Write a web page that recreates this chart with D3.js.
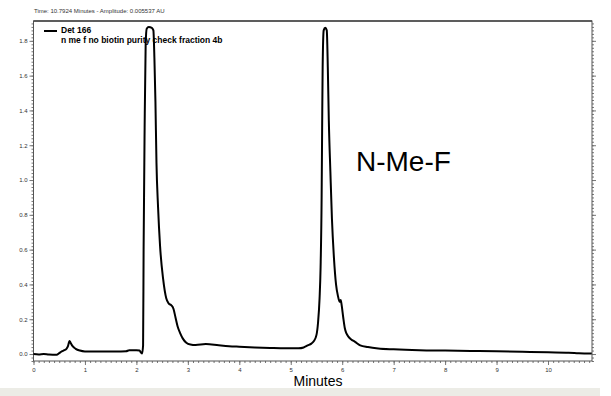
<!DOCTYPE html>
<html>
<head>
<meta charset="utf-8">
<script src="https://cdn.jsdelivr.net/npm/d3@7"></script>
<style>
  body { margin: 0; background: #fff; }
  svg { display: block; font-family: Arial, "Liberation Sans", sans-serif; }
</style>
</head>
<body>
<div id="chart"></div>
<script>
// Chromatogram trace (minutes, AU)
const times = [0.00, 0.10, 0.20, 0.30, 0.45, 0.50, 0.55, 0.60, 0.64, 0.67, 0.70, 0.72, 0.76, 0.82, 0.90,
  1.00, 1.30, 1.60, 1.80, 1.86, 2.00, 2.06, 2.09, 2.11, 2.13, 2.14, 2.16, 2.18, 2.20, 2.24, 2.30, 2.33,
  2.35, 2.37, 2.39, 2.42, 2.46, 2.52, 2.58, 2.63, 2.68, 2.72, 2.76, 2.80, 2.85, 2.90, 2.97, 3.05, 3.15,
  3.35, 3.60, 3.80, 4.00, 4.30, 4.60, 4.90, 5.15, 5.25, 5.33, 5.40, 5.45, 5.50, 5.53, 5.56, 5.58, 5.60,
  5.61, 5.62, 5.64, 5.67, 5.70, 5.72, 5.74, 5.77, 5.80, 5.84, 5.88, 5.92, 5.95, 5.97, 5.99, 6.02, 6.05,
  6.08, 6.12, 6.17, 6.25, 6.35, 6.50, 6.70, 7.00, 7.50, 8.00, 8.50, 9.00, 9.50, 10.00, 10.40, 10.60, 10.85];
const amplitude = [0.000, -0.002, 0.000, -0.003, -0.004, 0.005, 0.015, 0.022, 0.030, 0.045, 0.075, 0.065, 0.045, 0.030, 0.020,
  0.015, 0.014, 0.014, 0.016, 0.022, 0.022, 0.020, 0.008, 0.003, 0.050, 0.60, 1.30, 1.78, 1.87, 1.88, 1.875, 1.86,
  1.70, 1.45, 1.10, 0.85, 0.62, 0.43, 0.32, 0.29, 0.28, 0.26, 0.21, 0.16, 0.12, 0.09, 0.065, 0.055, 0.052,
  0.057, 0.050, 0.045, 0.042, 0.038, 0.035, 0.033, 0.033, 0.038, 0.050, 0.060, 0.075, 0.11, 0.18, 0.32, 0.50, 0.90,
  1.30, 1.65, 1.86, 1.875, 1.86, 1.65, 1.34, 1.05, 0.78, 0.55, 0.40, 0.33, 0.30, 0.31, 0.28, 0.21, 0.15,
  0.12, 0.10, 0.085, 0.07, 0.05, 0.040, 0.032, 0.027, 0.022, 0.020, 0.018, 0.016, 0.013, 0.010, 0.008, 0.005, 0.003];

const xTicks = [0, 1, 2, 3, 4, 5, 6, 7, 8, 9, 10];
const yTicks = [0.0, 0.2, 0.4, 0.6, 0.8, 1.0, 1.2, 1.4, 1.6, 1.8];

const width = 611, height = 396;
const plotLeft = 33.5, plotRight = 592, plotTop = 21, plotBottom = 361;

const svg = d3.select('#chart').append('svg')
  .attr('width', width)
  .attr('height', height);

// grey strip under the chart
svg.append('rect')
  .attr('x', 0).attr('y', 388)
  .attr('width', 600).attr('height', 8)
  .attr('fill', '#ecece6');

const x = d3.scaleLinear().domain([0, 10.855]).range([plotLeft, plotRight]);
const y = d3.scaleLinear().domain([-0.04, 1.914]).range([plotBottom, plotTop]);

// minor tick values
const yMinor = d3.range(-2, 96).map(i => i * 0.02);
const xMinor = d3.range(0, 109).map(i => i * 0.1);

function styleAxis(g) {
  g.select('.domain').remove();
  g.selectAll('line').attr('stroke', '#777');
  g.selectAll('text').attr('fill', '#333').style('font-size', '6px');
}

// left axis
svg.append('g')
  .attr('transform', `translate(${plotLeft},0)`)
  .call(d3.axisLeft(y).tickValues(yMinor).tickSize(2).tickFormat(''))
  .call(styleAxis);
svg.append('g')
  .attr('transform', `translate(${plotLeft},0)`)
  .call(d3.axisLeft(y).tickValues(yTicks).tickSize(4).tickPadding(2).tickFormat(d3.format('.1f')))
  .call(styleAxis);

// right axis
svg.append('g')
  .attr('transform', `translate(${plotRight},0)`)
  .call(d3.axisRight(y).tickValues(yMinor).tickSize(2).tickFormat(''))
  .call(styleAxis);
svg.append('g')
  .attr('transform', `translate(${plotRight},0)`)
  .call(d3.axisRight(y).tickValues(yTicks).tickSize(4).tickFormat(''))
  .call(styleAxis);

// bottom axis
svg.append('g')
  .attr('transform', `translate(0,${plotBottom})`)
  .call(d3.axisBottom(x).tickValues(xMinor).tickSize(2).tickFormat(''))
  .call(styleAxis);
svg.append('g')
  .attr('transform', `translate(0,${plotBottom})`)
  .call(d3.axisBottom(x).tickValues(xTicks).tickSize(4).tickPadding(3).tickFormat(d3.format('d')))
  .call(styleAxis);

// frame
svg.append('rect')
  .attr('x', plotLeft).attr('y', plotTop)
  .attr('width', plotRight - plotLeft).attr('height', plotBottom - plotTop)
  .attr('fill', 'none')
  .attr('stroke', '#555')
  .attr('stroke-width', 1);
svg.append('line')
  .attr('x1', plotLeft).attr('x2', plotRight)
  .attr('y1', plotTop).attr('y2', plotTop)
  .attr('stroke', '#444').attr('stroke-width', 1.5);

// trace
const points = times.map((t, i) => [t, amplitude[i]]);
const line = d3.line()
  .x(d => x(d[0]))
  .y(d => y(d[1]))
  .curve(d3.curveMonotoneX);

svg.append('path')
  .datum(points)
  .attr('fill', 'none')
  .attr('stroke', '#000')
  .attr('stroke-width', 2)
  .attr('stroke-linejoin', 'round')
  .attr('d', line);

// legend
svg.append('line')
  .attr('x1', 44).attr('x2', 57)
  .attr('y1', 31).attr('y2', 31)
  .attr('stroke', '#000').attr('stroke-width', 2);
svg.append('text')
  .attr('x', 61).attr('y', 33)
  .style('font-size', '8.5px').style('font-weight', 'bold')
  .text('Det 166');
svg.append('text')
  .attr('x', 61).attr('y', 43)
  .style('font-size', '8.5px').style('font-weight', 'bold')
  .text('n me f no biotin purity check fraction 4b');

// cursor readout
svg.append('text')
  .attr('x', 34).attr('y', 13)
  .style('font-size', '6px').attr('fill', '#333')
  .text('Time:  10.7924 Minutes - Amplitude:  0.005537  AU');

// axis title
svg.append('text')
  .attr('x', 318).attr('y', 386)
  .attr('text-anchor', 'middle')
  .style('font-size', '14px')
  .text('Minutes');

// annotation
svg.append('text')
  .attr('x', 356).attr('y', 171)
  .style('font-size', '28px')
  .text('N-Me-F');
</script>
</body>
</html>
